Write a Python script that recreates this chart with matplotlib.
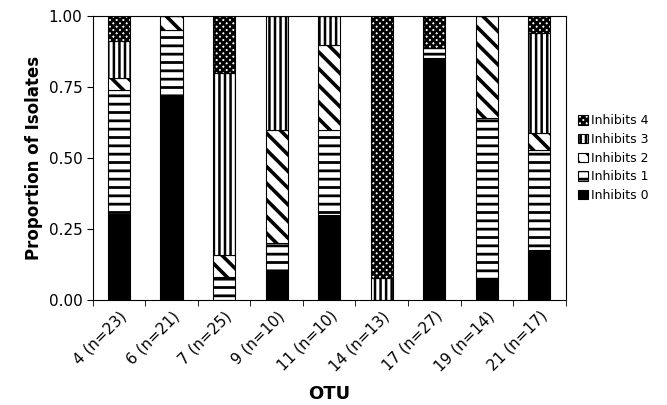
import numpy as np
import matplotlib.pyplot as plt

# OTU categories and isolate counts per inhibition class
otus = ['4 (n=23)', '6 (n=21)', '7 (n=25)', '9 (n=10)', '11 (n=10)',
        '14 (n=13)', '17 (n=27)', '19 (n=14)', '21 (n=17)']
totals = [23, 21, 25, 10, 10, 13, 27, 14, 17]
inhibits0 = [7, 15, 0, 1, 3, 0, 23, 1, 3]
inhibits1 = [10, 5, 2, 1, 3, 0, 1, 8, 6]
inhibits2 = [1, 1, 2, 4, 3, 0, 0, 5, 1]
inhibits3 = [3, 0, 16, 4, 1, 1, 0, 0, 6]
inhibits4 = [2, 0, 5, 0, 0, 12, 3, 0, 1]

# label, counts, face, hatch, hatch linewidth
series = [('Inhibits 0', inhibits0, 'black', None, 1.0),
          ('Inhibits 1', inhibits1, 'white', '--', 2.0),
          ('Inhibits 2', inhibits2, 'white', '\\\\', 2.6),
          ('Inhibits 3', inhibits3, 'white', '|||', 1.8),
          ('Inhibits 4', inhibits4, 'white', 'xxxxx', 2.0)]

plt.rcParams['font.family'] = 'DejaVu Sans'

fig = plt.figure(figsize=(6.67, 4.05), dpi=100)
ax = fig.add_axes([0.139, 0.259, 0.709, 0.701])

x = np.arange(len(otus))
n = np.array(totals, dtype=float)
bottom = np.zeros(len(otus))
for label, counts, fc, hatch, hlw in series:
    vals = np.array(counts) / n
    with plt.rc_context({'hatch.linewidth': hlw}):
        ax.bar(x, vals, 0.42, bottom=bottom, color=fc, edgecolor='black',
               hatch=hatch, linewidth=0.8, label=label)
    bottom += vals

ax.set_xlim(-0.5, len(otus) - 0.5)
ax.set_ylim(0, 1)
ax.set_yticks([0, 0.25, 0.5, 0.75, 1.0])
ax.set_yticklabels(['0.00', '0.25', '0.50', '0.75', '1.00'], fontsize=11)
ax.set_xticks(x)
ax.set_xticklabels(otus, rotation=45, ha='right', rotation_mode='anchor', fontsize=11)
ax.tick_params(axis='x', length=0, pad=6)
ax.set_xticks(np.arange(len(otus) + 1) - 0.5, minor=True)
ax.tick_params(axis='x', which='minor', length=4)
ax.tick_params(axis='y', length=4)

ax.set_ylabel('Proportion of Isolates', fontsize=12, fontweight='bold')
ax.set_xlabel('OTU', fontsize=13, fontweight='bold', labelpad=8)

handles, labels = ax.get_legend_handles_labels()
with plt.rc_context({'hatch.linewidth': 2.0}):
    ax.legend(handles[::-1], labels[::-1], loc='center left', bbox_to_anchor=(1.0, 0.5),
              frameon=False, fontsize=9, handlelength=0.8, handleheight=0.8,
              handletextpad=0.2, labelspacing=0.45, borderaxespad=0.6)

fig.savefig('out.png', dpi=100)
